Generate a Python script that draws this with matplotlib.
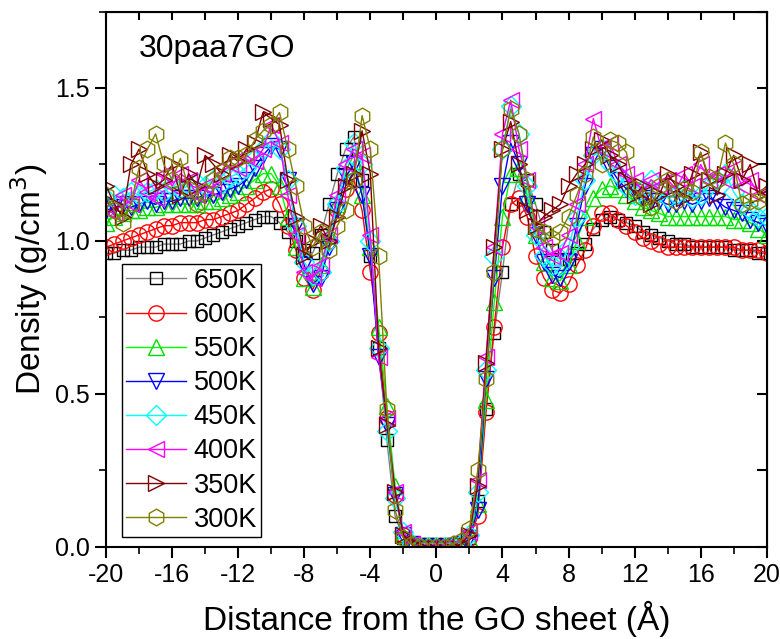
import numpy as np
import matplotlib.pyplot as plt

plt.rcParams['font.family'] = ['Liberation Sans', 'DejaVu Sans']
plt.rcParams['axes.unicode_minus'] = False

# distance from the GO sheet (A), 0.5 A bins
dist = np.arange(-20, 20.01, 0.5)

d650 = [0.96, 0.96, 0.97, 0.97, 0.98, 0.98, 0.98, 0.99, 0.99, 0.99,
        1.00, 1.00, 1.01, 1.02, 1.03, 1.04, 1.05, 1.06, 1.07, 1.08,
        1.08, 1.06, 1.03, 1.00, 0.97, 0.96, 1.02, 1.12, 1.22, 1.30,
        1.34, 1.20, 0.95, 0.65, 0.35, 0.10, 0.03, 0.01, 0.01, 0.01,
        0.01, 0.01, 0.01, 0.01, 0.03, 0.15, 0.45, 0.70, 0.90, 1.12,
        1.22, 1.20, 1.12, 1.03, 0.97, 0.94, 0.94, 0.96, 0.99, 1.04,
        1.07, 1.08, 1.07, 1.06, 1.05, 1.03, 1.02, 1.01, 1.00, 0.99,
        0.99, 0.98, 0.98, 0.98, 0.98, 0.98, 0.97, 0.97, 0.97, 0.96,
        0.96]
d600 = [0.98, 0.99, 1.00, 1.01, 1.02, 1.03, 1.04, 1.05, 1.05, 1.06,
        1.06, 1.06, 1.07, 1.07, 1.08, 1.09, 1.10, 1.12, 1.14, 1.16,
        1.17, 1.12, 1.05, 0.97, 0.88, 0.84, 0.90, 1.00, 1.10, 1.17,
        1.20, 1.10, 0.90, 0.70, 0.42, 0.17, 0.04, 0.01, 0.00, 0.00,
        0.00, 0.00, 0.00, 0.01, 0.03, 0.10, 0.44, 0.72, 0.98, 1.12,
        1.14, 1.08, 0.95, 0.88, 0.84, 0.83, 0.86, 0.92, 0.97, 1.05,
        1.09, 1.09, 1.07, 1.05, 1.03, 1.01, 1.00, 0.99, 0.98, 0.98,
        0.98, 0.98, 0.98, 0.98, 0.98, 0.98, 0.98, 0.97, 0.97, 0.97,
        0.96]
d550 = [1.06, 1.08, 1.09, 1.10, 1.10, 1.11, 1.11, 1.12, 1.12, 1.12,
        1.12, 1.12, 1.13, 1.13, 1.14, 1.15, 1.16, 1.18, 1.20, 1.22,
        1.22, 1.18, 1.08, 0.98, 0.88, 0.85, 0.92, 1.02, 1.12, 1.20,
        1.26, 1.15, 0.98, 0.72, 0.46, 0.20, 0.04, 0.01, 0.00, 0.00,
        0.00, 0.00, 0.00, 0.01, 0.03, 0.14, 0.48, 0.80, 1.08, 1.22,
        1.24, 1.15, 1.02, 0.93, 0.88, 0.87, 0.92, 1.00, 1.08, 1.14,
        1.17, 1.18, 1.17, 1.15, 1.13, 1.11, 1.10, 1.09, 1.08, 1.08,
        1.08, 1.08, 1.08, 1.08, 1.08, 1.08, 1.07, 1.07, 1.06, 1.04,
        1.02]
d500 = [1.10, 1.11, 1.12, 1.11, 1.12, 1.13, 1.12, 1.13, 1.13, 1.14,
        1.14, 1.14, 1.15, 1.15, 1.16, 1.17, 1.18, 1.20, 1.24, 1.28,
        1.31, 1.30, 1.20, 1.05, 0.92, 0.86, 0.88, 0.98, 1.10, 1.21,
        1.25, 1.15, 0.95, 0.62, 0.40, 0.17, 0.04, 0.01, 0.00, 0.00,
        0.00, 0.00, 0.00, 0.01, 0.03, 0.12, 0.55, 0.88, 1.18, 1.32,
        1.25, 1.12, 1.02, 0.93, 0.89, 0.88, 0.93, 1.05, 1.18, 1.28,
        1.30, 1.24, 1.20, 1.17, 1.16, 1.14, 1.13, 1.13, 1.12, 1.12,
        1.13, 1.12, 1.13, 1.14, 1.13, 1.11, 1.10, 1.09, 1.07, 1.06,
        1.05]
d450 = [1.14, 1.15, 1.14, 1.16, 1.15, 1.16, 1.17, 1.16, 1.18, 1.17,
        1.18, 1.19, 1.18, 1.20, 1.19, 1.21, 1.22, 1.24, 1.27, 1.30,
        1.33, 1.30, 1.20, 1.05, 0.93, 0.89, 0.90, 1.00, 1.12, 1.24,
        1.32, 1.25, 1.00, 0.65, 0.38, 0.16, 0.05, 0.01, 0.00, 0.00,
        0.00, 0.00, 0.00, 0.01, 0.04, 0.18, 0.58, 0.95, 1.30, 1.44,
        1.35, 1.18, 1.02, 0.95, 0.92, 0.92, 0.98, 1.08, 1.20, 1.28,
        1.30, 1.25, 1.22, 1.18, 1.15, 1.17, 1.20, 1.16, 1.14, 1.15,
        1.17, 1.14, 1.15, 1.18, 1.20, 1.22, 1.16, 1.12, 1.10, 1.08,
        1.08]
d400 = [1.10, 1.09, 1.15, 1.12, 1.20, 1.16, 1.14, 1.22, 1.18, 1.22,
        1.20, 1.15, 1.18, 1.17, 1.22, 1.25, 1.24, 1.28, 1.26, 1.30,
        1.38, 1.32, 1.15, 1.02, 0.90, 0.88, 0.92, 1.02, 1.15, 1.25,
        1.30, 1.28, 1.02, 0.62, 0.42, 0.18, 0.05, 0.01, 0.00, 0.00,
        0.00, 0.00, 0.00, 0.01, 0.05, 0.22, 0.62, 0.98, 1.35, 1.46,
        1.30, 1.20, 1.05, 0.98, 0.95, 0.96, 1.02, 1.12, 1.25, 1.40,
        1.30, 1.32, 1.25, 1.22, 1.20, 1.16, 1.20, 1.18, 1.20, 1.17,
        1.22, 1.18, 1.25, 1.20, 1.22, 1.20, 1.24, 1.18, 1.20, 1.15,
        1.16]
d350 = [1.18, 1.12, 1.08, 1.25, 1.30, 1.22, 1.18, 1.20, 1.25, 1.15,
        1.22, 1.18, 1.28, 1.25, 1.22, 1.28, 1.26, 1.30, 1.32, 1.42,
        1.40, 1.38, 1.20, 1.08, 0.95, 1.00, 1.05, 1.00, 1.08, 1.18,
        1.22, 1.36, 1.22, 0.65, 0.40, 0.18, 0.04, 0.01, 0.00, 0.00,
        0.00, 0.00, 0.00, 0.01, 0.04, 0.20, 0.60, 0.98, 1.30, 1.39,
        1.25, 1.10, 1.05, 1.08, 1.10, 1.12, 1.18, 1.22, 1.25, 1.30,
        1.33, 1.28, 1.25, 1.20, 1.15, 1.18, 1.12, 1.15, 1.22, 1.18,
        1.14, 1.22, 1.29, 1.20, 1.15, 1.22, 1.28, 1.20, 1.25, 1.15,
        1.18]
d300 = [1.15, 1.10, 1.06, 1.12, 1.24, 1.30, 1.35, 1.25, 1.20, 1.27,
        1.17, 1.12, 1.16, 1.20, 1.23, 1.27, 1.27, 1.28, 1.33, 1.36,
        1.38, 1.42, 1.30, 1.18, 1.05, 0.98, 1.03, 0.97, 1.05, 1.10,
        1.20, 1.41, 1.30, 0.95, 0.45, 0.12, 0.03, 0.01, 0.00, 0.00,
        0.00, 0.00, 0.01, 0.02, 0.06, 0.25, 0.55, 0.90, 1.30, 1.43,
        1.35, 1.20, 1.04, 1.03, 1.01, 1.03, 1.08, 1.15, 1.22, 1.34,
        1.25, 1.33, 1.32, 1.29, 1.17, 1.14, 1.11, 1.18, 1.20, 1.13,
        1.17, 1.16, 1.29, 1.21, 1.20, 1.32, 1.25, 1.12, 1.13, 1.13,
        1.15]

series = [d650, d600, d550, d500, d450, d400, d350, d300]
labels = ['650K', '600K', '550K', '500K', '450K', '400K', '350K', '300K']
markers = ['s', 'o', '^', 'v', 'D', '<', '>', 'h']
mcolors = ['black', 'red', '#00dd00', 'blue', 'cyan', 'magenta', '#800000', '#808000']
lcolors = ['gray', 'red', '#00ff00', 'blue', 'cyan', 'magenta', '#800000', '#808000']
msizes = [9, 11, 11, 11, 10, 11, 11, 12]

fig = plt.figure(figsize=(7.8, 6.39), dpi=100)
ax = fig.add_axes([0.136, 0.144, 0.847, 0.838])

for y, lab, m, mc, lc, ms in zip(series, labels, markers, mcolors, lcolors, msizes):
    ax.plot(dist, y, '-', color=lc, lw=1.0, marker=m, ms=ms, mfc='none',
            mec=mc, mew=1.0, label=lab)

ax.set_xlim(-20, 20)
ax.set_ylim(0, 1.75)
ax.set_xticks(np.arange(-20, 21, 4))
ax.set_xticks(np.arange(-20, 21, 2), minor=True)
ax.set_yticks([0.0, 0.5, 1.0, 1.5])
ax.set_yticks(np.arange(0, 1.76, 0.25), minor=True)
ax.set_yticklabels(['0.0', '0.5', '1.0', '1.5'])
ax.tick_params(which='major', direction='out', length=8, width=1.5, labelsize=18)
ax.tick_params(which='minor', direction='out', length=5, width=1.2)
for s in ax.spines.values():
    s.set_linewidth(1.5)

# inward ticks on the right and top edges
ax_r = ax.secondary_yaxis('right')
ax_r.set_yticks([0.0, 0.5, 1.0, 1.5])
ax_r.set_yticks(np.arange(0, 1.76, 0.25), minor=True)
ax_r.tick_params(which='both', direction='in', length=7, width=1.5, labelright=False)
ax_t = ax.secondary_xaxis('top')
ax_t.set_xticks(np.arange(-20, 21, 4))
ax_t.set_xticks(np.arange(-20, 21, 2), minor=True)
ax_t.tick_params(which='both', direction='in', length=6, width=1.5, labeltop=False)

ax.set_xlabel('Distance from the GO sheet (Å)', fontsize=24, labelpad=10)
ax.set_ylabel('Density (g/cm$^3$)', fontsize=24, labelpad=4)
ax.text(0.05, 0.93, '30paa7GO', transform=ax.transAxes, fontsize=23, va='center')

leg = ax.legend(loc='lower left', bbox_to_anchor=(0.024, 0.019), borderaxespad=0,
                fontsize=19.5, fancybox=False, edgecolor='black', framealpha=1,
                handlelength=2.2, labelspacing=0.3, handletextpad=0.3,
                borderpad=0.15)
leg.get_frame().set_linewidth(1.0)

fig.savefig('out.png', dpi=100)
